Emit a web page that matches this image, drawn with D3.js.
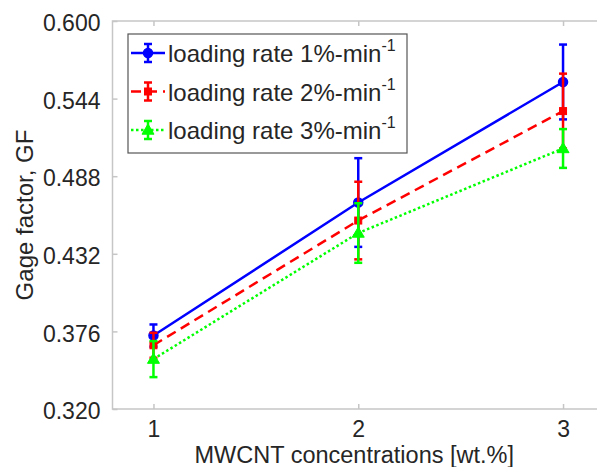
<!DOCTYPE html>
<html>
<head>
<meta charset="utf-8">
<script src="https://cdn.jsdelivr.net/npm/d3@7"></script>
<style>
  html, body { margin: 0; padding: 0; background: #fff; }
  svg { display: block; font-family: "Liberation Sans", Arial, sans-serif; }
</style>
</head>
<body>
<svg id="chart" width="597" height="467"></svg>
<script>
// MWCNT concentration (wt.%)
const concentrations = [1, 2, 3];
// Gage factor means and error half-widths per loading rate
const gf1 = [0.373, 0.469, 0.556];
const err1 = [0.008, 0.032, 0.027];
const gf2 = [0.366, 0.456, 0.535];
const err2 = [0.009, 0.028, 0.027];
const gf3 = [0.356, 0.447, 0.508];
const err3 = [0.013, 0.0215, 0.014];
const seriesNames = ["loading rate 1%-min", "loading rate 2%-min", "loading rate 3%-min"];
const seriesColors = ["#0000ff", "#ff0000", "#00ff00"];
const yTicks = [0.320, 0.376, 0.432, 0.488, 0.544, 0.600];
const xTicks = [1, 2, 3];

const series = [
  { name: seriesNames[0], y: gf1, e: err1, color: seriesColors[0], dash: null, marker: "circle" },
  { name: seriesNames[1], y: gf2, e: err2, color: seriesColors[1], dash: "10,6", marker: "square" },
  { name: seriesNames[2], y: gf3, e: err3, color: seriesColors[2], dash: "2.5,2.5", marker: "triangle" }
];

const svg = d3.select("#chart");
const plotLeft = 112.5, plotRight = 604, plotTop = 21, plotBottom = 409;
const x = d3.scaleLinear().domain([0.8, 3.2]).range([plotLeft, plotRight]);
const y = d3.scaleLinear().domain([0.32, 0.6]).range([plotBottom, plotTop]);
const axisGray = "#c6c6c6";
const textColor = "#262626";

// axes box
svg.append("rect").attr("x", plotLeft).attr("y", plotTop)
  .attr("width", plotRight - plotLeft).attr("height", plotBottom - plotTop)
  .attr("fill", "none").attr("stroke", axisGray).attr("stroke-width", 1.5);

// bottom axis (inward ticks)
const xb = svg.append("g").attr("transform", `translate(0,${plotBottom})`)
  .call(d3.axisBottom(x).tickValues(xTicks).tickSizeInner(-5).tickSizeOuter(0).tickPadding(12).tickFormat(d3.format("d")));
xb.select(".domain").remove();
xb.selectAll("line").attr("stroke", axisGray).attr("stroke-width", 1.5);
xb.selectAll("text").attr("font-size", 23).attr("fill", textColor);

// top axis ticks
const xt = svg.append("g").attr("transform", `translate(0,${plotTop})`)
  .call(d3.axisTop(x).tickValues(xTicks).tickSizeInner(-5).tickSizeOuter(0).tickFormat(""));
xt.select(".domain").remove();
xt.selectAll("line").attr("stroke", axisGray).attr("stroke-width", 1.5);

// left axis
const yl = svg.append("g").attr("transform", `translate(${plotLeft},0)`)
  .call(d3.axisLeft(y).tickValues(yTicks).tickSizeInner(-5).tickSizeOuter(0).tickPadding(12).tickFormat(d3.format(".3f")));
yl.select(".domain").remove();
yl.selectAll("line").attr("stroke", axisGray).attr("stroke-width", 1.5);
yl.selectAll("text").attr("font-size", 23).attr("fill", textColor).attr("dy", "0.42em");

// axis titles
svg.append("text").attr("x", (plotLeft + x(3.2)) / 2 - 4).attr("y", 463)
  .attr("text-anchor", "middle").attr("font-size", 23.5).attr("fill", textColor)
  .text("MWCNT concentrations [wt.%]");
svg.append("text").attr("transform", `translate(33,${(plotTop + plotBottom) / 2}) rotate(-90)`)
  .attr("text-anchor", "middle").attr("font-size", 24).attr("fill", textColor)
  .text("Gage factor, GF");

function drawMarker(g, type, cx, cy, color) {
  if (type === "circle") {
    g.append("circle").attr("cx", cx).attr("cy", cy).attr("r", 4.5)
      .attr("fill", color).attr("stroke", color).attr("stroke-width", 1.5);
  } else if (type === "square") {
    g.append("rect").attr("x", cx - 3.5).attr("y", cy - 3.5).attr("width", 7).attr("height", 7)
      .attr("fill", color).attr("stroke", color).attr("stroke-width", 1);
  } else {
    const s = 6;
    g.append("path").attr("d", `M${cx},${cy - s} L${cx + s},${cy + s * 0.7} L${cx - s},${cy + s * 0.7} Z`)
      .attr("fill", color).attr("stroke", color).attr("stroke-width", 1);
  }
}

const plot = svg.append("g");
const line = d3.line().x(d => x(d[0])).y(d => y(d[1]));
const cap = 4;

series.forEach(s => {
  const g = plot.append("g");
  const pts = concentrations.map((c, i) => [c, s.y[i], s.e[i]]);
  g.append("path").datum(pts).attr("d", line)
    .attr("fill", "none").attr("stroke", s.color).attr("stroke-width", 2.5)
    .attr("stroke-dasharray", s.dash);
  pts.forEach(p => {
    const px = x(p[0]), y0 = y(p[1] - p[2]), y1 = y(p[1] + p[2]);
    g.append("line").attr("x1", px).attr("x2", px).attr("y1", y0).attr("y2", y1)
      .attr("stroke", s.color).attr("stroke-width", 2.5);
    [y0, y1].forEach(yy => g.append("line").attr("x1", px - cap).attr("x2", px + cap)
      .attr("y1", yy).attr("y2", yy).attr("stroke", s.color).attr("stroke-width", 2.5));
    drawMarker(g, s.marker, px, y(p[1]), s.color);
  });
});

// legend
const lg = svg.append("g");
lg.append("rect").attr("x", 128).attr("y", 34).attr("width", 279).attr("height", 119)
  .attr("fill", "#fff").attr("stroke", "#555").attr("stroke-width", 1.2);
series.forEach((s, i) => {
  const cy = 53 + i * 38.5;
  const g = lg.append("g");
  g.append("line").attr("x1", 131).attr("x2", 165).attr("y1", cy).attr("y2", cy)
    .attr("stroke", s.color).attr("stroke-width", 2.5).attr("stroke-dasharray", s.dash);
  g.append("line").attr("x1", 148).attr("x2", 148).attr("y1", cy - 9).attr("y2", cy + 9)
    .attr("stroke", s.color).attr("stroke-width", 2.5);
  [cy - 9, cy + 9].forEach(yy => g.append("line").attr("x1", 148 - cap).attr("x2", 148 + cap)
    .attr("y1", yy).attr("y2", yy).attr("stroke", s.color).attr("stroke-width", 2.5));
  drawMarker(g, s.marker, 148, cy, s.color);
  const t = g.append("text").attr("x", 168).attr("y", cy + 9)
    .attr("font-size", 24).attr("fill", textColor);
  t.append("tspan").text(s.name);
  t.append("tspan").attr("font-size", 16).attr("dy", -11).text("-1");
});
</script>
</body>
</html>
